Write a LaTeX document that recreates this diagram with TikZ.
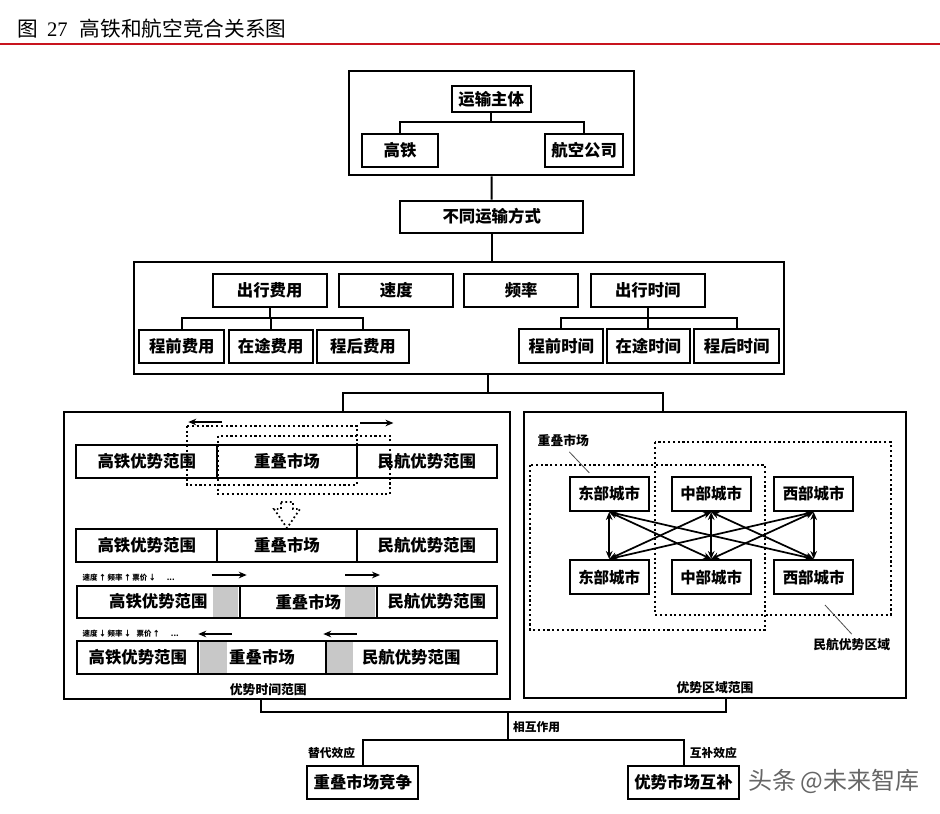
\documentclass[tikz,border=0pt]{standalone}
\usepackage{fontspec}
\setmainfont{Noto Sans CJK SC}
\newfontfamily\shuzi{Liberation Serif}
\usepackage{tikz}
\usetikzlibrary{arrows.meta}

\newlength\upx
\setlength\upx{0.75pt}
\definecolor{biaotihong}{RGB}{200,20,30}
\definecolor{huise}{RGB}{200,200,200}

\begin{document}
\begin{tikzpicture}[
    >={Stealth[length=6pt, width=5pt]},
    x=0.75pt,
    y=-0.75pt,
    kuang/.style 2 args={draw, line width=1.5pt, inner sep=0pt,
        minimum width=#1\upx, minimum height=#2\upx,
        font=\fontsize{12.3}{14}\selectfont\bfseries},
    chengshi/.style={draw, line width=1.6pt, inner sep=0pt,
        minimum width=79\upx, minimum height=34.3\upx,
        font=\fontsize{11.6}{13}\selectfont\bfseries},
    waikuang/.style 2 args={draw, line width=1.6pt, inner sep=0pt,
        minimum width=#1\upx, minimum height=#2\upx},
    lianxian/.style={line width=1.5pt},
    xuxian/.style={dotted, line width=1.6pt},
    jt/.style={->, line width=1.4pt},
    yinxian/.style={line width=0.6pt, black!70},
    xiaozi/.style={font=\fontsize{8.8}{10}\selectfont\bfseries},
    zhongzi/.style={font=\fontsize{9.6}{11}\selectfont\bfseries},
    weizi/.style={font=\fontsize{5.6}{6}\selectfont\bfseries}
]
\useasboundingbox (0,0) rectangle (940,814);

% 标题
\node[anchor=west, font=\fontsize{15.5}{18}\selectfont] (biaoti) at (13,29)
    {图\hspace{6.5pt}{\shuzi 27}\hspace{9pt}高铁和航空竞合关系图};
\draw[biaotihong, line width=1.4pt] (0,44) -- (940,44);

% 运输主体
\node[waikuang={285}{104.6}] (ztk) at (491.5,123) {};
\node[kuang={79}{26.3}] (zt) at (491.2,99.2) {运输主体};
\node[kuang={76.6}{33.3}] (gt) at (400,150.7) {高铁};
\node[kuang={78.3}{33.3}] (hk) at (584.2,150.7) {航空公司};
\coordinate (ztb) at (491.2,122.3);
\draw[lianxian] (zt.south) -- (ztb);
\draw[lianxian] (gt.north) |- (ztb) -| (hk.north);

\node[kuang={183.3}{32}] (fs) at (491.7,216.7) {不同运输方式};
\draw[lianxian] (ztk.south) -- (fs.north);

% 运输方式的比较因素
\node[waikuang={650}{112.3}] (ys) at (459,317.8) {};
\draw[lianxian] (fs.south) -- (fs.south |- ys.north);

\node[kuang={114}{33.5}] (cxfy) at (269.7,290.3) {出行费用};
\node[kuang={114}{33.5}] (sd) at (396.3,290.3) {速度};
\node[kuang={114}{33.5}] (pl) at (521.2,290.3) {频率};
\node[kuang={114}{33.5}] (cxsj) at (647.8,290.3) {出行时间};

\node[kuang={85}{33.3}] (qfy) at (181.8,346.5) {程前费用};
\node[kuang={84}{33.3}] (zfy) at (270.7,346.5) {在途费用};
\node[kuang={92.6}{33.3}] (hfy) at (363,346.5) {程后费用};
\node[kuang={84}{33.3}] (qsj) at (561.3,346) {程前时间};
\node[kuang={83.3}{33.3}] (zsj) at (648.3,346) {在途时间};
\node[kuang={85.3}{33.3}] (hsj) at (736.7,346) {程后时间};

\coordinate (fyb) at (269.7,318.3);
\coordinate (sjb) at (647.8,318.3);
\draw[lianxian] (cxfy.south) -- (fyb);
\draw[lianxian] (qfy.north) |- (fyb) -| (hfy.north);
\draw[lianxian] (zfy.north) -- (zfy.north |- fyb);
\draw[lianxian] (cxsj.south) -- (sjb);
\draw[lianxian] (qsj.north) |- (sjb) -| (hsj.north);
\draw[lianxian] (zsj.north) -- (zsj.north |- sjb);

% 两个范围面板
\node[waikuang={446}{287.3}] (zuo) at (287,555.3) {};
\node[waikuang={382}{286}] (you) at (715,555.3) {};
\coordinate (fen) at (488,393);
\coordinate (zd) at (343,393);
\coordinate (yd) at (663.3,393);
\draw[lianxian] (fen |- ys.south) -- (fen);
\draw[lianxian] (zd |- zuo.north) -- (zd) -- (yd) -- (yd |- you.north);

% 优势时间范围
\draw[jt] (221.7,422) -- ++(-33.4,0);
\draw[jt] (360,423) -- ++(33.4,0);
\foreach \h/\y in {1/461.5, 2/545.5} {
  \node[kuang={141.3}{33}] (gtfw\h) at (146.7,\y) {高铁优势范围};
  \node[kuang={139.4}{33}] (cdsc\h) at (287,\y) {重叠市场};
  \node[kuang={140.3}{33}] (mhfw\h) at (426.8,\y) {民航优势范围};
}
\draw[xuxian] (186.7,425.7) rectangle (356.7,485);
\draw[xuxian] (218.3,435.7) rectangle (390,494.3);
\draw[xuxian, line width=1.3pt] (281,502) -- (293,502) -- (293,509) -- (300,509)
    -- (287,528) -- (274,509) -- (281,509) -- cycle;

\node[anchor=west, weizi] (bh1) at (78,578) {速度\,↑\,频率\,↑\,票价\,↓\hspace{8pt}...};
\draw[jt] (211.7,575) -- ++(35,0);
\draw[jt] (345,575) -- ++(35,0);
\fill[huise] (212.7,585.7) rectangle (238.3,617.7);
\fill[huise] (345,585.7) rectangle (375,617.7);
\node[kuang={163.3}{32}] (gtfw3) at (158.3,601.7) {高铁优势范围};
\node[kuang={136.7}{32}] (cdsc3) at (308.3,601.7) {重叠市场};
\node[kuang={120}{32}] (mhfw3) at (436.7,601.7) {民航优势范围};

\node[anchor=west, weizi] (bh2) at (78,634) {速度\,↓\,频率\,↓\hspace{4pt}票价\,↑\hspace{8pt}...};
\draw[jt] (231.7,634) -- ++(-33.4,0);
\draw[jt] (356.7,634) -- ++(-33.4,0);
\fill[huise] (200,641) rectangle (226.7,674);
\fill[huise] (326.7,641) rectangle (353.3,674);
\node[kuang={121}{33}] (gtfw4) at (137.8,657.5) {高铁优势范围};
\node[kuang={127.4}{33}] (cdsc4) at (262,657.5) {重叠市场};
\node[kuang={171}{33}] (mhfw4) at (411.2,657.5) {民航优势范围};

\node[zhongzi] (sjfw) at (268.3,690) {优势时间范围};

% 优势区域范围
\draw[xuxian] (530,465) rectangle (765,630);
\draw[xuxian] (655,442.3) rectangle (890.7,615);
\node[zhongzi] (cdlab) at (563.3,441) {重叠市场};
\draw[yinxian] ([xshift=6\upx]cdlab.south) -- ++(20,21);
\node[zhongzi] (mhlab) at (851.7,645) {民航优势区域};
\draw[yinxian] (825,605) -- (mhlab.north);

\node[chengshi] (dong1) at (609.2,493.8) {东部城市};
\node[chengshi] (zhong1) at (711.2,493.8) {中部城市};
\node[chengshi] (xi1) at (813.7,493.8) {西部城市};
\node[chengshi] (dong2) at (609.2,577.2) {东部城市};
\node[chengshi] (zhong2) at (711.2,577.2) {中部城市};
\node[chengshi] (xi2) at (813.7,577.2) {西部城市};
\foreach \s in {dong1,zhong1,xi1}
  \foreach \t in {dong2,zhong2,xi2}
    \draw[<->, line width=1.3pt] (\s.south) -- (\t.north);

\node[zhongzi] (qyfw) at (715,687.7) {优势区域范围};

% 相互作用
\coordinate (zl) at (261,712.3);
\coordinate (yl) at (725.7,712.3);
\coordinate (hz) at (508.3,712.3);
\coordinate (hx) at (508.3,740);
\draw[lianxian] (zl |- zuo.south) -- (zl) -- (yl) -- (yl |- you.south);
\draw[lianxian] (hz) -- (hx);
\node[xiaozi] (xhzy) at (536.7,726.7) {相互作用};

\node[kuang={111}{33}] (jz) at (362.8,782.5) {重叠市场竞争};
\node[kuang={111.6}{33}] (hb) at (683.5,782.5) {优势市场互补};
\draw[lianxian] (jz.north) |- (hx) -| (hb.north);
\node[xiaozi] (tdxy) at (331.7,753.3) {替代效应};
\node[xiaozi] (hbxy) at (713.3,753.3) {互补效应};

\node[anchor=west, font=\fontsize{18}{20}\selectfont, text=black!60] (shuiyin)
    at (744,781) {头条\hspace{3pt}@未来智库};

\end{tikzpicture}
\end{document}
